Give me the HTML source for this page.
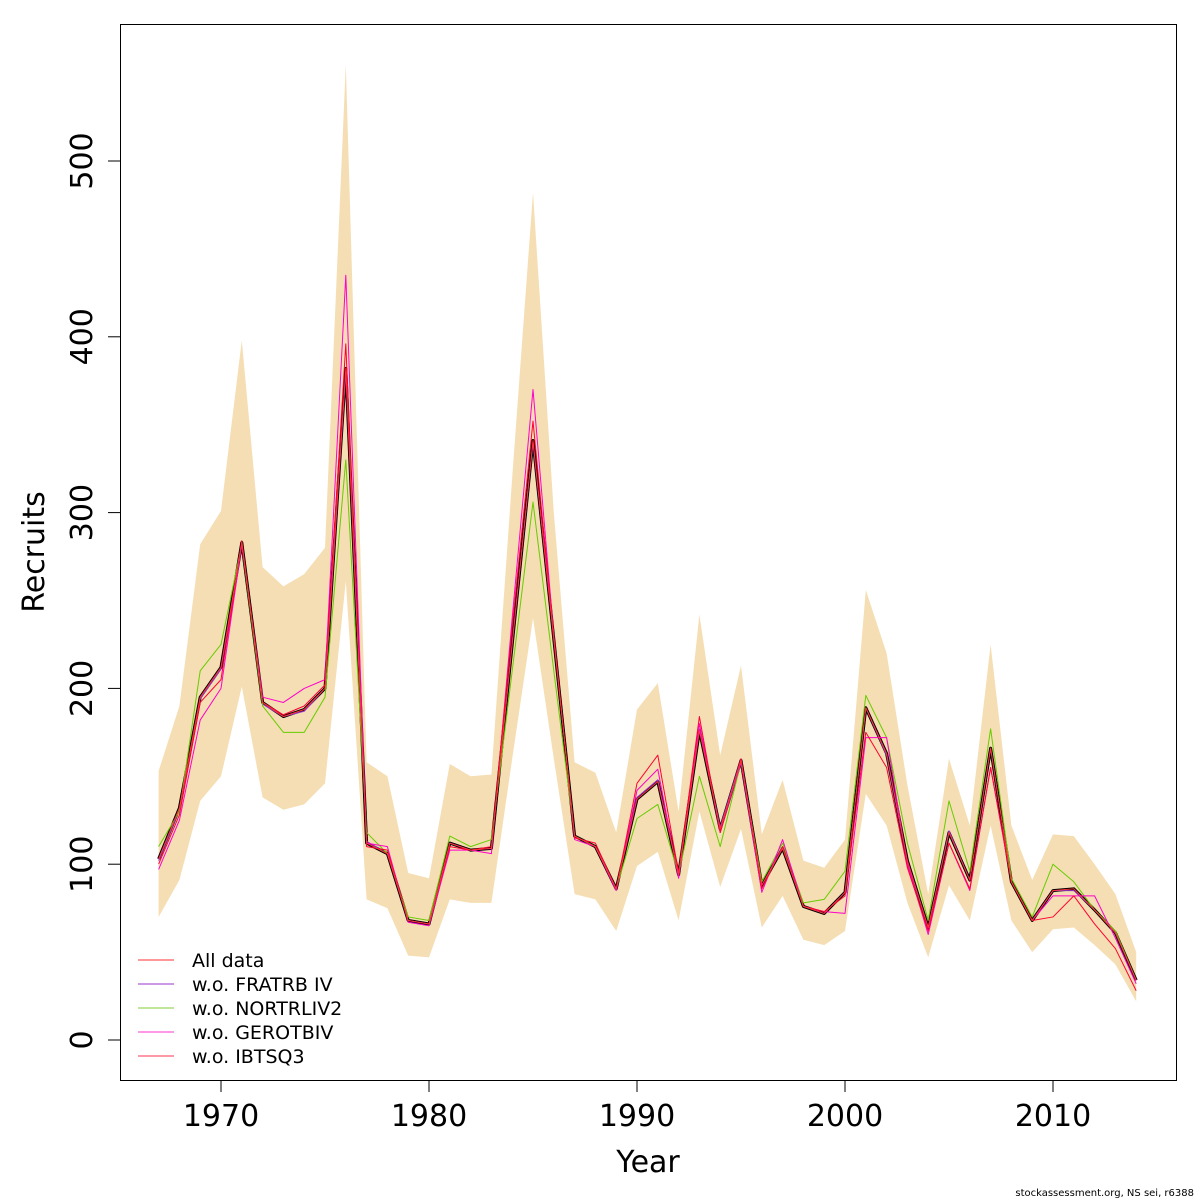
<!DOCTYPE html>
<html><head><meta charset="utf-8"><style>body{margin:0;background:#fff}svg{display:block;font-family:"DejaVu Sans","Liberation Sans",sans-serif}</style></head>
<body>
<svg id="chart" width="1200" height="1200" viewBox="0 0 1200 1200"></svg>
<script>
const years=[1967,1968,1969,1970,1971,1972,1973,1974,1975,1976,1977,1978,1979,1980,1981,1982,1983,1984,1985,1986,1987,1988,1989,1990,1991,1992,1993,1994,1995,1996,1997,1998,1999,2000,2001,2002,2003,2004,2005,2006,2007,2008,2009,2010,2011,2012,2013,2014];
const allData=[103,132,195,212,283,192,184,188,200,382,112,106,68,66,112,108,109,225,341,228,116,110,86,137,147,94,176,120,159,88,109,76,72,84,189,163,102,64,118,91,166,90,68,85,86,74,61,34];
const upperCI=[153,190,282,301,398,269,258,265,280,555,158,150,95,92,157,150,151,320,482,300,158,152,118,188,203,130,242,162,213,117,148,102,98,114,256,220,145,83,160,122,225,122,91,117,116,100,83,50];
const lowerCI=[70,91,136,150,201,138,131,134,146,261,80,75,48,47,80,78,78,160,240,160,83,80,62,99,107,68,130,87,120,64,82,57,54,62,140,122,78,47,88,68,122,68,50,63,64,54,43,22];
const woFRATRB=[102,131,194,211,282,191,184,187,200,380,113,106,68,66,112,108,109,226,340,228,116,110,86,138,148,94,177,121,160,88,110,76,72,84,189,162,101,64,119,91,166,90,68,85,85,74,61,34];
const woNORTRLIV2=[110,130,210,225,282,190,175,175,195,330,118,106,70,68,116,110,114,210,306,210,116,110,86,126,134,94,150,110,158,90,112,78,80,96,196,172,112,68,136,96,177,92,70,100,90,74,62,34];
const woGEROTBIV=[97,125,182,200,282,195,192,200,205,435,112,110,67,65,108,108,106,240,370,230,114,110,85,142,154,92,180,118,158,84,114,76,73,72,172,172,100,60,112,85,155,90,68,82,82,82,58,32];
const woIBTSQ3=[100,128,192,205,284,192,185,190,202,396,110,108,68,66,110,108,110,235,352,230,115,112,86,146,162,95,184,118,160,86,110,76,73,82,175,155,98,62,112,86,155,90,68,70,82,66,52,28];
const yTicks=[0,100,200,300,400,500];
const xTicks=[1970,1980,1990,2000,2010];
const legendLabels=["All data","w.o. FRATRB IV","w.o. NORTRLIV2","w.o. GEROTBIV","w.o. IBTSQ3"];
const NS="http://www.w3.org/2000/svg";
const svg=document.getElementById('chart');
const X=y=>221+(y-1970)*20.8;
const Y=v=>1040-1.758*v;
function mk(t,a,p){const e=document.createElementNS(NS,t);for(const k in a)e.setAttribute(k,a[k]);(p||svg).appendChild(e);return e;}
// band
let pts=years.map((y,i)=>X(y)+','+Y(upperCI[i])).concat(years.map((y,i)=>X(y)+','+Y(lowerCI[i])).reverse());
const band=mk('polygon',{points:pts.join(' '),fill:'#F5DEB3',stroke:'none'});


function line(arr,color,w,name){const l=mk('polyline',{points:years.map((y,i)=>X(y)+','+Y(arr[i])).join(' '),fill:'none',stroke:color,'stroke-width':w,'stroke-linejoin':'round'});

}
line(allData,'#000',3,'all-data-bold-line');
line(woFRATRB,'#9933cc',1,'wo-fratrb-line');
line(woNORTRLIV2,'#66cc00',1,'wo-nortrliv2-line');
line(woGEROTBIV,'#ff00cc',1,'wo-gerotbiv-line');
line(woIBTSQ3,'#ff0033',1,'wo-ibtsq3-line');
line(allData,'#ff3333',1,'all-data-line');
// box
const box=mk('rect',{x:120.5,y:24.5,width:1056,height:1056,fill:'none',stroke:'#000','stroke-width':1});


yTicks.forEach(v=>{mk('line',{x1:108,x2:120,y1:Y(v),y2:Y(v),stroke:'#000'});
const t=mk('text',{x:0,y:0,transform:`translate(92,${Y(v)}) rotate(-90)`,'text-anchor':'middle','font-size':30});t.textContent=v;

});
xTicks.forEach(v=>{mk('line',{x1:X(v),x2:X(v),y1:1080,y2:1092,stroke:'#000'});
const t=mk('text',{x:X(v),y:1126,'text-anchor':'middle','font-size':30});t.textContent=v;

});
const xt=mk('text',{x:648,y:1172,'text-anchor':'middle','font-size':30});xt.textContent='Year';


const yt=mk('text',{x:0,y:0,transform:'translate(44,552) rotate(-90)','text-anchor':'middle','font-size':30});yt.textContent='Recruits';


const cols=['#ff9999','#cc99e6','#c2e699','#ff99e6','#ff99a8'];
legendLabels.forEach((s,i)=>{const yy=960+24*i;
mk('line',{x1:138,x2:174,y1:yy,y2:yy,stroke:cols[i],'stroke-width':2});
const t=mk('text',{x:192,y:yy+7,'font-size':19});t.textContent=s;

});
const c=mk('text',{x:1194,y:1196,'text-anchor':'end','font-size':10});c.textContent='stockassessment.org, NS sei, r6388';


</script>
</body></html>
